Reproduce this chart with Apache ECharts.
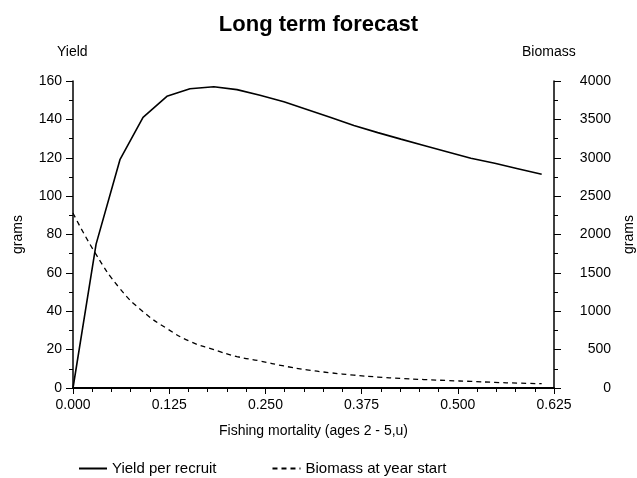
<!DOCTYPE html>
<html>
<head>
<meta charset="utf-8">
<script src="https://cdn.jsdelivr.net/npm/echarts@6/dist/echarts.min.js"></script>
<style>
  html, body { margin: 0; padding: 0; background: #fff; }
  #chart { width: 637px; height: 478px; }
</style>
</head>
<body>
<div id="chart"></div>
<script>
// fishing mortality (x) for each run
const fishingMortality = [0, 0.030, 0.061, 0.091, 0.122, 0.152, 0.183, 0.213, 0.243, 0.274,
  0.304, 0.335, 0.365, 0.396, 0.426, 0.456, 0.487, 0.517, 0.548, 0.578, 0.609];
// yield per recruit, grams (left axis)
const yieldPerRecruit = [0, 75, 119, 141, 152, 156, 157, 155.5, 152.6, 149.2,
  145.2, 141, 136.8, 133.1, 129.7, 126.4, 123, 119.7, 117.1, 114.3, 111.4];
// biomass at year start, grams (right axis)
const biomassAtStart = [2280, 1740, 1295, 995, 775, 607, 500, 410, 352, 287,
  236, 198, 168, 143, 125, 110, 97, 86, 73, 64, 56];

const font = 'Liberation Sans, Arial, sans-serif';

const pairs = (ys) => fishingMortality.map((x, i) => [x, ys[i]]);

const chart = echarts.init(document.getElementById('chart'));

chart.setOption({
  backgroundColor: '#fff',
  animation: false,
  title: {
    text: 'Long term forecast',
    left: 'center',
    top: 9,
    textStyle: { fontFamily: font, fontSize: 22, fontWeight: 'bold', color: '#000' }
  },
  graphic: [
    { type: 'text', left: 57, top: 45, style: { text: 'Yield', font: '14px ' + font, fill: '#000' } },
    { type: 'text', left: 522, top: 45, style: { text: 'Biomass', font: '14px ' + font, fill: '#000' } }
  ],
  legend: {
    left: 73,
    top: 456,
    itemWidth: 28,
    itemHeight: 10,
    itemGap: 55,
    itemStyle: { opacity: 0 },
    textStyle: { fontFamily: font, fontSize: 15, color: '#000' },
    data: ['Yield per recruit', 'Biomass at year start']
  },
  grid: { left: 73, right: 83, top: 81, bottom: 90, outerBoundsMode: 'none', containLabel: false },
  xAxis: {
    type: 'value',
    min: 0,
    max: 0.625,
    interval: 0.125,
    name: 'Fishing mortality (ages 2 - 5,u)',
    nameLocation: 'middle',
    nameGap: 36,
    nameTextStyle: { fontFamily: font, fontSize: 14, color: '#000' },
    axisLine: { lineStyle: { color: '#000', width: 2 } },
    axisTick: { length: 6, lineStyle: { color: '#000' } },
    minorTick: { show: true, splitNumber: 5, length: 4, lineStyle: { color: '#000' } },
    axisLabel: {
      margin: 10,
      fontFamily: font, fontSize: 14, color: '#000',
      formatter: (v) => v.toFixed(3)
    },
    splitLine: { show: false }
  },
  yAxis: [
    {
      type: 'value',
      min: 0,
      max: 160,
      interval: 20,
      name: 'grams',
      nameLocation: 'middle',
      nameRotate: 90,
      nameGap: 48,
      nameTextStyle: { fontFamily: font, fontSize: 14, color: '#000' },
      axisLine: { show: true, lineStyle: { color: '#000', width: 1.5 } },
      axisTick: { show: true, length: 7, lineStyle: { color: '#000' } },
      minorTick: { show: true, splitNumber: 2, length: 4, lineStyle: { color: '#000' } },
      axisLabel: { margin: 11, fontFamily: font, fontSize: 14, color: '#000' },
      splitLine: { show: false }
    },
    {
      type: 'value',
      min: 0,
      max: 4000,
      interval: 500,
      position: 'right',
      name: 'grams',
      nameLocation: 'middle',
      nameRotate: 90,
      nameGap: 67,
      nameTextStyle: { fontFamily: font, fontSize: 14, color: '#000' },
      axisLine: { show: true, lineStyle: { color: '#000', width: 1.5 } },
      axisTick: { show: true, length: 7, lineStyle: { color: '#000' } },
      minorTick: { show: true, splitNumber: 2, length: 4, lineStyle: { color: '#000' } },
      axisLabel: {
        margin: 57, align: 'right', fontFamily: font, fontSize: 14, color: '#000',
        formatter: (v) => String(v)
      },
      splitLine: { show: false }
    }
  ],
  series: [
    {
      name: 'Yield per recruit',
      type: 'line',
      yAxisIndex: 0,
      symbol: 'none',
      lineStyle: { color: '#000', width: 1.6, type: 'solid' },
      itemStyle: { color: '#000' },
      data: pairs(yieldPerRecruit)
    },
    {
      name: 'Biomass at year start',
      type: 'line',
      yAxisIndex: 1,
      symbol: 'none',
      smooth: true,
      lineStyle: { color: '#000', width: 1.3, type: [5, 4] },
      itemStyle: { color: '#000' },
      data: pairs(biomassAtStart)
    }
  ]
});
</script>
</body>
</html>
